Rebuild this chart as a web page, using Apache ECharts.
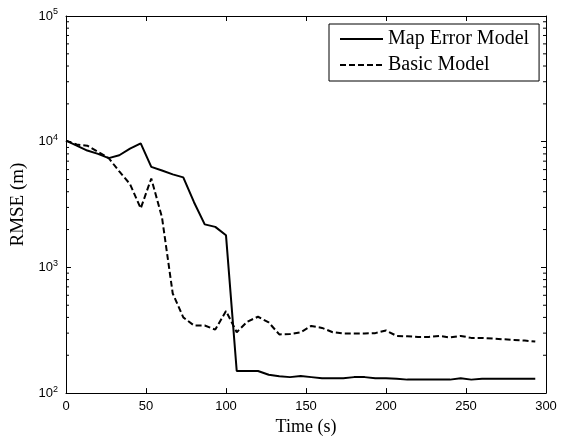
<!DOCTYPE html>
<html>
<head>
<meta charset="utf-8">
<script src="https://cdn.jsdelivr.net/npm/echarts@6/dist/echarts.min.js"></script>
<style>
  html, body { margin: 0; padding: 0; background: #fff; }
  #chart { width: 563px; height: 441px; }
</style>
</head>
<body>
<div id="chart"></div>
<script>
// sample times (s)
const times = [
  0, 6.7, 13.3, 20, 26.7, 33.3, 40, 46.7, 53.3, 60,
  66.7, 73.3, 80, 86.7, 93.3, 100, 106.7, 113.3, 120, 126.7,
  133.3, 140, 146.7, 153.3, 160, 166.7, 173.3, 180, 186.7, 193.3,
  200, 206.7, 213.3, 220, 226.7, 233.3, 240, 246.7, 253.3, 260,
  266.7, 273.3, 280, 286.7, 293.3
];

const mapErrorModel = [
  10200, 9300, 8500, 8000, 7400, 7800, 8800, 9700, 6300, 5900,
  5500, 5200, 3300, 2200, 2100, 1800, 150, 150, 150, 140,
  136, 134, 137, 134, 131, 131, 131, 134, 134, 131,
  131, 130, 128, 128, 128, 128, 128, 131, 128, 130,
  130, 130, 130, 130, 130
];

const basicModel = [
  10200, 9500, 9300, 8300, 7400, 5800, 4600, 2950, 5100, 2500,
  620, 400, 345, 345, 320, 450, 305, 370, 405, 365,
  293, 295, 305, 342, 330, 305, 298, 298, 298, 300,
  315, 285, 283, 280, 280, 285, 277, 285, 275, 275,
  272, 268, 265, 262, 257
];

const xTicks = [0, 50, 100, 150, 200, 250, 300];
const minorTicks = [
  200, 300, 400, 500, 600, 700, 800, 900,
  2000, 3000, 4000, 5000, 6000, 7000, 8000, 9000,
  20000, 30000, 40000, 50000, 60000, 70000, 80000, 90000
];

const chart = echarts.init(document.getElementById("chart"), null, { renderer: "canvas" });

const tickFont = "Liberation Sans";
const serif = "Liberation Serif";

const frameLine = { show: true, onZero: false, lineStyle: { color: "#000", width: 1 } };
const frameTick = { show: true, inside: true, length: 5, lineStyle: { color: "#000" } };

const option = {
  animation: false,
  grid: { left: 66, right: 17, top: 16, bottom: 47, show: false },
  legend: {
    data: ["Map Error Model", "Basic Model"],
    orient: "vertical",
    left: 329,
    top: 24,
    itemWidth: 43,
    itemHeight: 14,
    itemGap: 6,
    padding: [5, 10, 6, 10],
    borderColor: "#000",
    borderWidth: 1,
    backgroundColor: "#fff",
    itemStyle: { opacity: 0 },
    textStyle: { fontFamily: serif, fontSize: 20, color: "#000" },
  },
  xAxis: [
    {
      type: "value",
      min: 0,
      max: 300,
      interval: 50,
      name: "Time (s)",
      nameLocation: "middle",
      nameGap: 24,
      nameTextStyle: { fontFamily: serif, fontSize: 18, color: "#000" },
      axisLine: frameLine,
      axisTick: frameTick,
      axisLabel: { fontFamily: tickFont, fontSize: 13, color: "#000", margin: 7 },
      splitLine: { show: false },
    },
    {
      type: "value",
      position: "top",
      min: 0,
      max: 300,
      interval: 50,
      axisLine: frameLine,
      axisTick: frameTick,
      axisLabel: { show: false },
      splitLine: { show: false },
    },
  ],
  yAxis: [
    {
      type: "log",
      logBase: 10,
      min: 100,
      max: 100000,
      name: "RMSE (m)",
      nameLocation: "middle",
      nameGap: 35,
      nameTextStyle: { fontFamily: serif, fontSize: 19, color: "#000" },
      axisLine: frameLine,
      axisTick: frameTick,
      axisLabel: {
        margin: 8,
        formatter: (v) => "{b|10}{s|" + Math.round(Math.log10(v)) + "}",
        rich: {
          b: { fontFamily: tickFont, fontSize: 13, color: "#000" },
          s: { fontFamily: tickFont, fontSize: 9, color: "#000", verticalAlign: "top", padding: [0, 0, 8, 0] },
        },
      },
      splitLine: { show: false },
    },
    {
      type: "log",
      logBase: 10,
      min: 100,
      max: 100000,
      position: "right",
      axisLine: frameLine,
      axisTick: frameTick,
      axisLabel: { show: false },
      splitLine: { show: false },
    },
  ],
  series: [
    {
      name: "Map Error Model",
      type: "line",
      data: times.map((t, i) => [t, mapErrorModel[i]]),
      showSymbol: false,
      symbol: "none",
      lineStyle: { color: "#000", width: 2 },
      itemStyle: { color: "#000" },
    },
    {
      name: "Basic Model",
      type: "line",
      data: times.map((t, i) => [t, basicModel[i]]),
      showSymbol: false,
      symbol: "none",
      lineStyle: { color: "#000", width: 2, type: [6, 3] },
      itemStyle: { color: "#000" },
    },
    {
      // log minor ticks on left and right edges
      type: "custom",
      silent: true,
      clip: false,
      data: minorTicks.map((v) => [0, v]),
      renderItem: (params, api) => {
        const v = api.value(1);
        const l = api.coord([xTicks[0], v]);
        const r = api.coord([xTicks[xTicks.length - 1], v]);
        const style = { stroke: "#000", lineWidth: 1 };
        return {
          type: "group",
          children: [
            { type: "line", shape: { x1: l[0], y1: l[1], x2: l[0] + 3, y2: l[1] }, style },
            { type: "line", shape: { x1: r[0], y1: r[1], x2: r[0] - 3, y2: r[1] }, style },
          ],
        };
      },
    },
  ],
};

chart.setOption(option);
</script>
</body>
</html>
